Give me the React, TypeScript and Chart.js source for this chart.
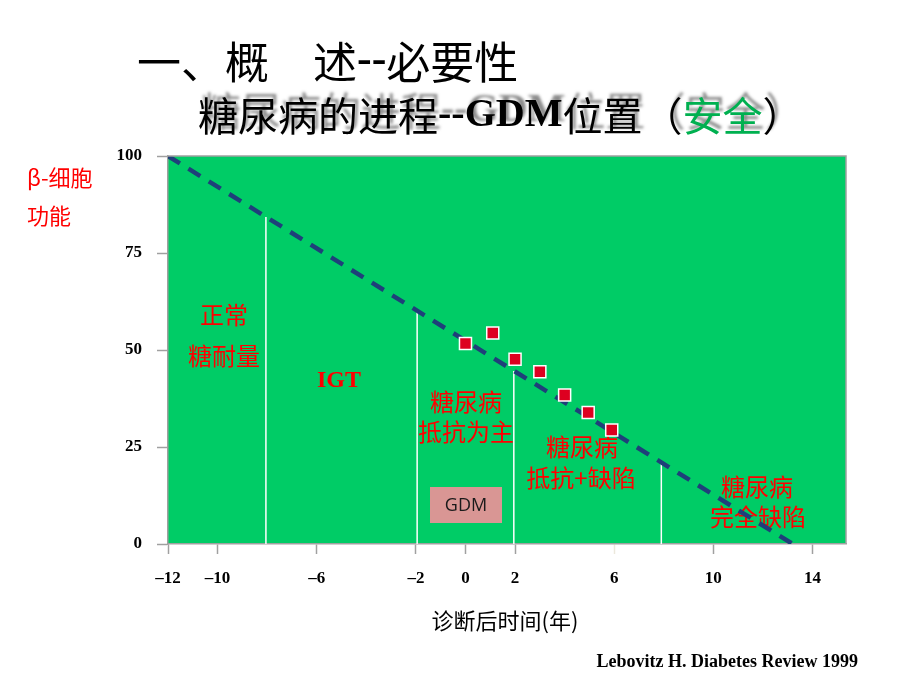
import React, { useEffect, useRef } from "react";
import { Chart, registerables } from "chart.js";

Chart.register(...registerables);

// ---- data ----
const xTickValues = [-12, -10, -6, -2, 0, 2, 6, 10, 14];
const yTickValues = [0, 25, 50, 75, 100];
const trendX = [-12, 13.2];
const trendY = [100, 0];
const measuredX = [0, 1.1, 2, 3, 4, 4.95, 5.9];
const measuredY = [51.7, 54.4, 47.6, 44.4, 38.4, 33.9, 29.4];
const stageBoundaryX = [-8.05, -1.95, 1.95, 7.9];
const stageBoundaryTop = [84.3, 60.1, 44.6, 21.3];

const CJK = '"Noto Sans CJK SC", "Noto Sans CJK JP", sans-serif';
const SERIF = '"Liberation Serif", "Times New Roman", serif';

type Run = { text: string; font: string; color: string };

function drawRuns(ctx: CanvasRenderingContext2D, runs: Run[], x: number, y: number, shadow?: boolean) {
  let cx = x;
  ctx.save();
  ctx.textBaseline = "middle";
  ctx.textAlign = "left";
  for (const r of runs) {
    ctx.font = r.font;
    if (shadow) {
      ctx.shadowColor = "rgba(110,110,110,0.8)";
      ctx.shadowOffsetX = 3;
      ctx.shadowOffsetY = -5;
      ctx.shadowBlur = 3;
    }
    ctx.fillStyle = r.color;
    ctx.fillText(r.text, cx, y);
    cx += ctx.measureText(r.text).width;
  }
  ctx.restore();
}

function centerText(ctx: CanvasRenderingContext2D, text: string, x: number, y: number, font: string, color: string) {
  ctx.save();
  ctx.font = font;
  ctx.fillStyle = color;
  ctx.textAlign = "center";
  ctx.textBaseline = "middle";
  ctx.fillText(text, x, y);
  ctx.restore();
}

const plotAnnotations = [
  { text: "正常", x: 224, y: 315 },
  { text: "糖耐量", x: 224, y: 356 },
  { text: "糖尿病", x: 466, y: 402 },
  { text: "抵抗为主", x: 466, y: 432 },
  { text: "糖尿病", x: 582, y: 447 },
  { text: "抵抗+缺陷", x: 581, y: 478 },
  { text: "糖尿病", x: 757, y: 487 },
  { text: "完全缺陷", x: 758, y: 517 },
];

const decorPlugin = {
  id: "decor",
  beforeDraw(chart: any) {
    const { ctx, chartArea: a } = chart;
    ctx.save();
    ctx.fillStyle = "#00CC66";
    ctx.fillRect(a.left, a.top, a.right - a.left, a.bottom - a.top);
    ctx.restore();
  },
  beforeDatasetsDraw(chart: any) {
    const ctx: CanvasRenderingContext2D = chart.ctx;
    // GDM box
    ctx.save();
    ctx.fillStyle = "#D99694";
    ctx.fillRect(430, 487, 72, 36);
    ctx.restore();
    centerText(ctx, "GDM", 466, 506, '18px "Open Sans", "DejaVu Sans", sans-serif', "#1a1a1a");
    for (const t of plotAnnotations) {
      centerText(ctx, t.text, t.x, t.y, `24px ${CJK}`, "#FF0000");
    }
    centerText(ctx, "IGT", 339, 381, `bold 24px ${SERIF}`, "#FF0000");
  },
  afterDraw(chart: any) {
    const ctx: CanvasRenderingContext2D = chart.ctx;
    const a = chart.chartArea;
    ctx.save();
    ctx.strokeStyle = "#A0A0A0";
    ctx.lineWidth = 1.5;
    ctx.beginPath();
    ctx.moveTo(a.left, a.top);
    ctx.lineTo(a.right, a.top);
    ctx.lineTo(a.right, a.bottom);
    ctx.stroke();
    ctx.restore();

    // Title
    drawRuns(
      ctx,
      [
        { text: "一、概　述", font: `44px ${CJK}`, color: "#000" },
        { text: "--", font: `bold 44px ${SERIF}`, color: "#000" },
        { text: "必要性", font: `44px ${CJK}`, color: "#000" },
      ],
      137,
      62
    );
    // Subtitle
    drawRuns(
      ctx,
      [
        { text: "糖尿病的进程", font: `40px ${CJK}`, color: "#000" },
        { text: "--GDM", font: `bold 40px ${SERIF}`, color: "#000" },
        { text: "位置（", font: `40px ${CJK}`, color: "#000" },
        { text: "安全", font: `40px ${CJK}`, color: "#00B050" },
        { text: "）", font: `40px ${CJK}`, color: "#000" },
      ],
      198,
      116,
      true
    );

    // y axis title
    ctx.save();
    ctx.textAlign = "left";
    ctx.textBaseline = "middle";
    ctx.fillStyle = "#FF0000";
    ctx.font = `22px ${CJK}`;
    ctx.fillText("β-细胞", 27, 178);
    ctx.fillText("功能", 27, 216);
    ctx.restore();

    // x axis title
    centerText(ctx, "诊断后时间(年)", 505, 621, `22px ${CJK}`, "#000");

    // footer
    ctx.save();
    ctx.font = `bold 18px ${SERIF}`;
    ctx.fillStyle = "#000";
    ctx.textAlign = "right";
    ctx.textBaseline = "middle";
    ctx.fillText("Lebovitz H. Diabetes Review 1999", 858, 662);
    ctx.restore();
  },
};

export default function App() {
  const ref = useRef<HTMLCanvasElement | null>(null);

  useEffect(() => {
    if (!ref.current) return;
    const boundaryDatasets = stageBoundaryX.map((bx, i) => ({
      label: "boundary" + i,
      data: [
        { x: bx, y: 0 },
        { x: bx, y: stageBoundaryTop[i] },
      ],
      showLine: true,
      borderColor: "#FFFFFF",
      borderWidth: 1.5,
      pointRadius: 0,
      order: 3,
    }));

    const chart = new Chart(ref.current, {
      type: "scatter",
      data: {
        datasets: [
          ...boundaryDatasets,
          {
            label: "trend",
            data: trendX.map((x, i) => ({ x, y: trendY[i] })),
            showLine: true,
            borderColor: "#1F3F7A",
            borderWidth: 4.5,
            borderDash: [14, 10],
            pointRadius: 0,
            order: 2,
          },
          {
            label: "measured",
            data: measuredX.map((x, i) => ({ x, y: measuredY[i] })),
            pointStyle: "rect",
            pointRadius: 8.5,
            pointHoverRadius: 8.5,
            backgroundColor: "#DD0020",
            borderColor: "#FFFFFF",
            borderWidth: 1.5,
            order: 1,
          },
        ] as any,
      },
      options: {
        responsive: false,
        animation: false,
        events: [],
        layout: { padding: { left: 108, top: 156, right: 74, bottom: 86 } },
        plugins: { legend: { display: false }, tooltip: { enabled: false } },
        scales: {
          x: {
            type: "linear",
            min: -12,
            max: 15.35,
            afterBuildTicks: (scale: any) => {
              scale.ticks = xTickValues.map((v) => ({ value: v }));
            },
            afterFit: (scale: any) => {
              scale.height = 60;
            },
            ticks: {
              autoSkip: false,
              maxRotation: 0,
              padding: 14,
              color: "#000",
              font: { family: SERIF, size: 17, weight: "bold" },
              callback: (v: any) => (v < 0 ? "–" + Math.abs(v) : String(v)),
            },
            grid: {
              drawOnChartArea: false,
              drawTicks: true,
              tickLength: 10,
              tickWidth: 1.5,
              tickColor: (c: any) => (c.tick && c.tick.value === 6 ? "#ECE8DC" : "#A0A0A0"),
            },
            border: { color: "#A0A0A0", width: 1.5 },
          },
          y: {
            type: "linear",
            min: 0,
            max: 100,
            afterBuildTicks: (scale: any) => {
              scale.ticks = yTickValues.map((v) => ({ value: v }));
            },
            afterFit: (scale: any) => {
              scale.width = 60;
            },
            ticks: {
              padding: 15,
              color: "#000",
              font: { family: SERIF, size: 17, weight: "bold" },
            },
            grid: {
              drawOnChartArea: false,
              drawTicks: true,
              tickLength: 11,
              tickWidth: 1.5,
              tickColor: "#A0A0A0",
            },
            border: { color: "#A0A0A0", width: 1.5 },
          },
        },
      },
      plugins: [decorPlugin],
    });
    return () => chart.destroy();
  }, []);

  return (
    <div style={{ position: "absolute", left: 0, top: 0, width: 920, height: 690, background: "#fff" }}>
      <canvas ref={ref} width={920} height={690} style={{ display: "block" }} />
    </div>
  );
}
